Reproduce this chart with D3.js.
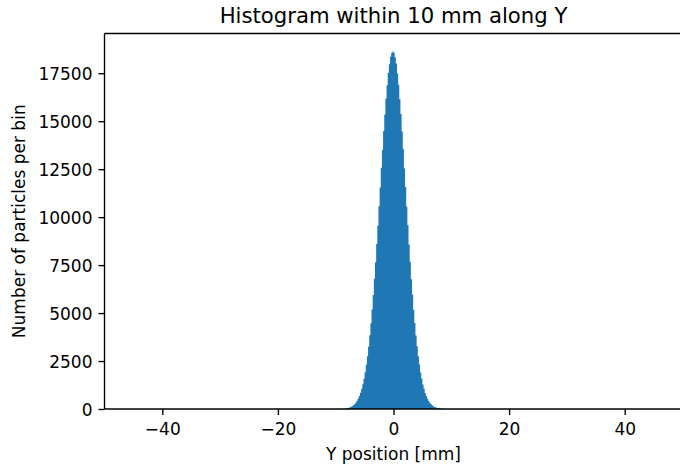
<!DOCTYPE html>
<html>
<head>
<meta charset="utf-8">
<script src="https://cdn.jsdelivr.net/npm/d3@7"></script>
<style>
  html, body { margin: 0; padding: 0; background: #ffffff; }
  svg { display: block; }
  text { font-family: "DejaVu Sans", sans-serif; fill: #000; }
</style>
</head>
<body>
<svg id="chart" width="680" height="466"></svg>
<script>
// Histogram of particle Y positions: 100 bins of 0.2 mm from -10 mm to +10 mm
const binStart = -10;
const binWidth = 0.2;
const counts = [
  1, 2, 3, 5, 6, 10, 14, 19, 27, 38,
  51, 68, 92, 118, 156, 201, 262, 335, 426, 541,
  680, 851, 1052, 1296, 1583, 1912, 2311, 2747, 3262, 3846,
  4471, 5190, 5944, 6788, 7652, 8601, 9548, 10566, 11540, 12571,
  13518, 14490, 15342, 16184, 16871, 17512, 17972, 18361, 18552, 18640,
  18571, 18330, 18004, 17483, 16902, 16151, 15377, 14462, 13551, 12540,
  11572, 10537, 9577, 8580, 7676, 6765, 5962, 5171, 4489, 3828,
  3274, 2743, 2315, 1906, 1586, 1283, 1051, 836, 677, 528,
  421, 322, 255, 190, 149, 108, 85, 60, 47, 33,
  25, 17, 13, 8, 6, 4, 3, 2, 1, 1
];
const xDomain = [-50, 50];
const xTicks = [-40, -20, 0, 20, 40];
const yTicks = [0, 2500, 5000, 7500, 10000, 12500, 15000, 17500];
const titleText = "Histogram within 10 mm along Y";
const xLabel = "Y position [mm]";
const yLabel = "Number of particles per bin";

const bins = counts.map((c, i) => ({
  x0: binStart + i * binWidth,
  x1: binStart + (i + 1) * binWidth,
  count: c
}));

const svg = d3.select("#chart");
const plotLeft = 104.5, plotRight = 682.5, plotTop = 33.5, plotBottom = 409;

const x = d3.scaleLinear().domain(xDomain).range([plotLeft, plotRight]);
const yMax = d3.max(counts) * 1.05;
const y = d3.scaleLinear().domain([0, yMax]).range([plotBottom, plotTop]);

const color = "#1f77b4";
const lw = 1.36;
const tickLen = 6;
const fontSize = 17;

// bars: one filled step outline so adjacent bins share edges without seams
const stepPoints = bins.map(b => ({ xv: b.x0, count: b.count }));
stepPoints.push({ xv: bins[bins.length - 1].x1, count: bins[bins.length - 1].count });
const area = d3.area()
  .x(d => x(d.xv))
  .y0(y(0))
  .y1(d => y(d.count))
  .curve(d3.curveStepAfter);
svg.append("path")
  .datum(stepPoints)
  .attr("d", area)
  .attr("fill", color);

// x axis
const xAxis = d3.axisBottom(x)
  .tickValues(xTicks)
  .tickSize(tickLen)
  .tickPadding(6)
  .tickFormat(d3.format("d"));
const gx = svg.append("g")
  .attr("transform", `translate(0,${plotBottom})`)
  .call(xAxis);
gx.select(".domain").remove();
gx.selectAll(".tick line").attr("stroke", "#000").attr("stroke-width", lw);
gx.selectAll(".tick text")
  .attr("font-size", fontSize)
  .attr("font-family", "DejaVu Sans")
  .attr("fill", "#000")
  .attr("dy", null)
  .attr("y", tickLen + 6 + 14);

// y axis
const yAxis = d3.axisLeft(y)
  .tickValues(yTicks)
  .tickSize(tickLen)
  .tickPadding(6)
  .tickFormat(d3.format("d"));
const gy = svg.append("g")
  .attr("transform", `translate(${plotLeft},0)`)
  .call(yAxis);
gy.select(".domain").remove();
gy.selectAll(".tick line").attr("stroke", "#000").attr("stroke-width", lw);
gy.selectAll(".tick text")
  .attr("font-size", fontSize)
  .attr("font-family", "DejaVu Sans")
  .attr("fill", "#000")
  .attr("dy", "0.36em");

// spines
const spines = svg.append("g")
  .attr("stroke", "#000")
  .attr("stroke-width", lw)
  .attr("fill", "none");
spines.append("line").attr("x1", plotLeft).attr("x2", plotLeft).attr("y1", plotTop).attr("y2", plotBottom);
spines.append("line").attr("x1", plotLeft).attr("x2", plotRight).attr("y1", plotBottom).attr("y2", plotBottom);
spines.append("line").attr("x1", plotLeft).attr("x2", plotRight).attr("y1", plotTop).attr("y2", plotTop);
spines.append("line").attr("x1", plotRight).attr("x2", plotRight).attr("y1", plotTop).attr("y2", plotBottom);

// title
svg.append("text")
  .attr("x", (plotLeft + plotRight) / 2)
  .attr("y", 22.5)
  .attr("text-anchor", "middle")
  .attr("font-size", 21.2)
  .text(titleText);

// axis labels
svg.append("text")
  .attr("x", (plotLeft + plotRight) / 2)
  .attr("y", 460)
  .attr("text-anchor", "middle")
  .attr("font-size", fontSize)
  .text(xLabel);

svg.append("text")
  .attr("transform", `translate(24.5,${(plotTop + plotBottom) / 2}) rotate(-90)`)
  .attr("text-anchor", "middle")
  .attr("font-size", fontSize)
  .text(yLabel);
</script>
</body>
</html>
